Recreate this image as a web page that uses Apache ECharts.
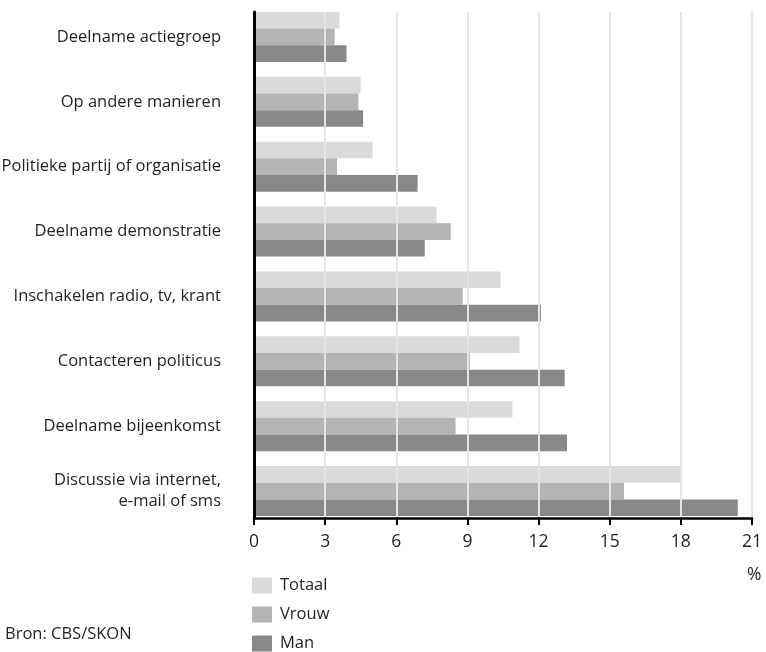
<!DOCTYPE html>
<html><head><meta charset="utf-8">
<script src="https://cdn.jsdelivr.net/npm/echarts@6/dist/echarts.min.js"></script>
<style>html,body{margin:0;padding:0;background:#fff}#c{width:766px;height:652px}</style>
</head><body><div id="c"></div>
<script>
const categories = ["Deelname actiegroep","Op andere manieren","Politieke partij of organisatie","Deelname demonstratie","Inschakelen radio, tv, krant","Contacteren politicus","Deelname bijeenkomst","Discussie via internet,\ne-mail of sms"];
const totaal = [3.6, 4.5, 5.0, 7.7, 10.4, 11.2, 10.9, 18.0];
const vrouw  = [3.4, 4.4, 3.5, 8.3, 8.8, 9.1, 8.5, 15.6];
const man    = [3.9, 4.6, 6.9, 7.2, 12.1, 13.1, 13.2, 20.4];
const xTicks = {min: 0, max: 21, interval: 3};
const seriesNames = ["Totaal","Vrouw","Man"];
const colors = ["#d9dadc","#b3b4b5","#87888a"];
const FONT = "Open Sans";
const TXT = "#231f20";
const FS = 16.5;
const legendTops = [577, 606, 635];

const chart = echarts.init(document.getElementById('c'), null, {renderer:'canvas'});
chart.setOption({
  animation:false,
  textStyle:{fontFamily:FONT},
  grid:[
    {left:254, width:498, top:12, height:506, containLabel:false, outerBoundsMode:'none'},
    {left:254, width:498, top:4.5, height:519, containLabel:false, outerBoundsMode:'none'}
  ],
  xAxis:[
    {gridIndex:0, type:'value', min:xTicks.min, max:xTicks.max, interval:xTicks.interval, z:10,
     axisLine:{show:true, lineStyle:{color:'#000', width:2.5}},
     axisTick:{show:true, length:7, lineStyle:{color:'#000', width:2}},
     axisLabel:{color:TXT, fontSize:17.5, fontFamily:FONT, margin:15},
     splitLine:{show:true, lineStyle:{color:'#e4e4e4', width:2}}},
    {gridIndex:1, type:'value', min:xTicks.min, max:xTicks.max, show:false}
  ],
  yAxis:[
    {gridIndex:0, type:'value', min:0, max:1, z:10, axisLine:{show:true, lineStyle:{color:'#000', width:3}},
     axisTick:{show:false}, axisLabel:{show:false}, splitLine:{show:false}},
    {gridIndex:1, type:'category', data:categories, inverse:true,
     axisLine:{show:false}, axisTick:{show:false},
     axisLabel:{color:TXT, fontSize:FS, fontFamily:FONT, margin:33, align:'right', lineHeight:21}}
  ],
  legend: seriesNames.map((n, i) => ({orient:'vertical', left:252, top:legendTops[i], padding:0,
    itemWidth:20, itemHeight:16, icon:'rect', data:[n], selectedMode:false,
    textStyle:{color:TXT, fontSize:FS, fontFamily:FONT, padding:[0,0,0,3]}})),
  graphic:[
    {type:'text', left:747, top:566, style:{text:'%', fill:TXT, font:'17.5px "Open Sans"'}},
    {type:'text', left:5, top:626, style:{text:'Bron: CBS/SKON', fill:TXT, font:FS+'px "Open Sans"'}}
  ],
  series:[
    {name:seriesNames[0], type:'bar', xAxisIndex:1, yAxisIndex:1, data:totaal, itemStyle:{color:colors[0]}, barGap:'0%', barCategoryGap:'22.9%'},
    {name:seriesNames[1], type:'bar', xAxisIndex:1, yAxisIndex:1, data:vrouw, itemStyle:{color:colors[1]}, barGap:'0%', barCategoryGap:'22.9%'},
    {name:seriesNames[2], type:'bar', xAxisIndex:1, yAxisIndex:1, data:man, itemStyle:{color:colors[2]}, barGap:'0%', barCategoryGap:'22.9%'}
  ]
});
</script></body></html>
